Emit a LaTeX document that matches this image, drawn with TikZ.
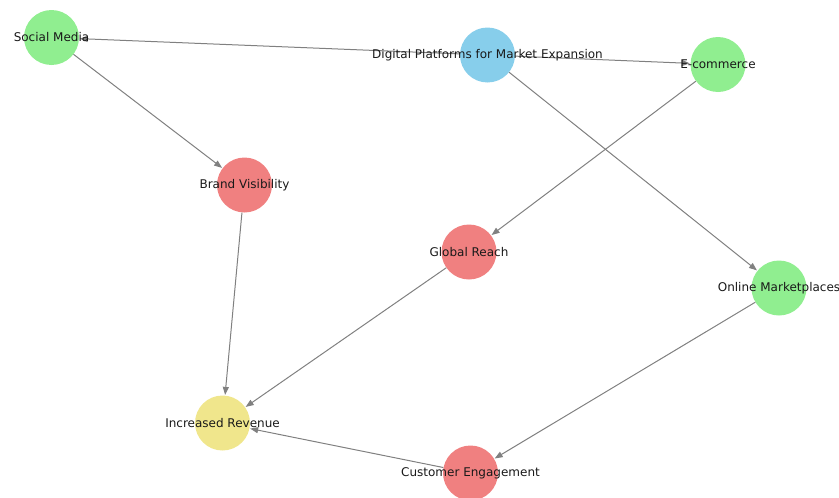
\documentclass[tikz,border=0pt]{standalone}
\usepackage{fontspec}
\setmainfont{DejaVu Sans}
\usetikzlibrary{arrows.meta}
\definecolor{ngreen}{HTML}{90EE90}
\definecolor{nblue}{HTML}{87CEEB}
\definecolor{nred}{HTML}{F08080}
\definecolor{nyellow}{HTML}{F0E68C}
\definecolor{edgegray}{HTML}{808080}
\begin{document}
\begin{tikzpicture}[x=1pt,y=-1pt,
  dot/.style={circle,inner sep=0pt,minimum size=55pt,draw=none},
  lbl/.style={inner sep=0pt,font=\fontsize{12}{14}\selectfont,text=black!90},
  conn/.style={draw=edgegray,line width=1pt,-{Triangle[length=8pt,width=6pt]},shorten >=0.5pt}]
\useasboundingbox (0,0) rectangle (839,498);
\node[dot,fill=ngreen]  (sm) at (51.5,37.5) {};
\node[dot,fill=nblue]   (dp) at (487.5,55) {};
\node[dot,fill=ngreen]  (ec) at (718,64.5) {};
\node[dot,fill=nred]    (bv) at (244.5,185) {};
\node[dot,fill=nred]    (gr) at (469,252) {};
\node[dot,fill=ngreen]  (om) at (779,288) {};
\node[dot,fill=nyellow] (ir) at (222.5,423) {};
\node[dot,fill=nred]    (ce) at (470.5,473) {};
\draw[conn] (dp) -- (sm);
\draw[conn] (dp) -- (ec);
\draw[conn] (dp) -- (om);
\draw[conn] (sm) -- (bv);
\draw[conn] (ec) -- (gr);
\draw[conn] (om) -- (ce);
\draw[conn] (bv) -- (ir);
\draw[conn] (gr) -- (ir);
\draw[conn] (ce) -- (ir);
\node[lbl] (smt) at (sm) {Social Media};
\node[lbl] (dpt) at (dp) {Digital Platforms for Market Expansion};
\node[lbl] (ect) at (ec) {E-commerce};
\node[lbl] (bvt) at (bv) {Brand Visibility};
\node[lbl] (grt) at (gr) {Global Reach};
\node[lbl] (omt) at (om) {Online Marketplaces};
\node[lbl] (irt) at (ir) {Increased Revenue};
\node[lbl] (cet) at (ce) {Customer Engagement};
\end{tikzpicture}
\end{document}
